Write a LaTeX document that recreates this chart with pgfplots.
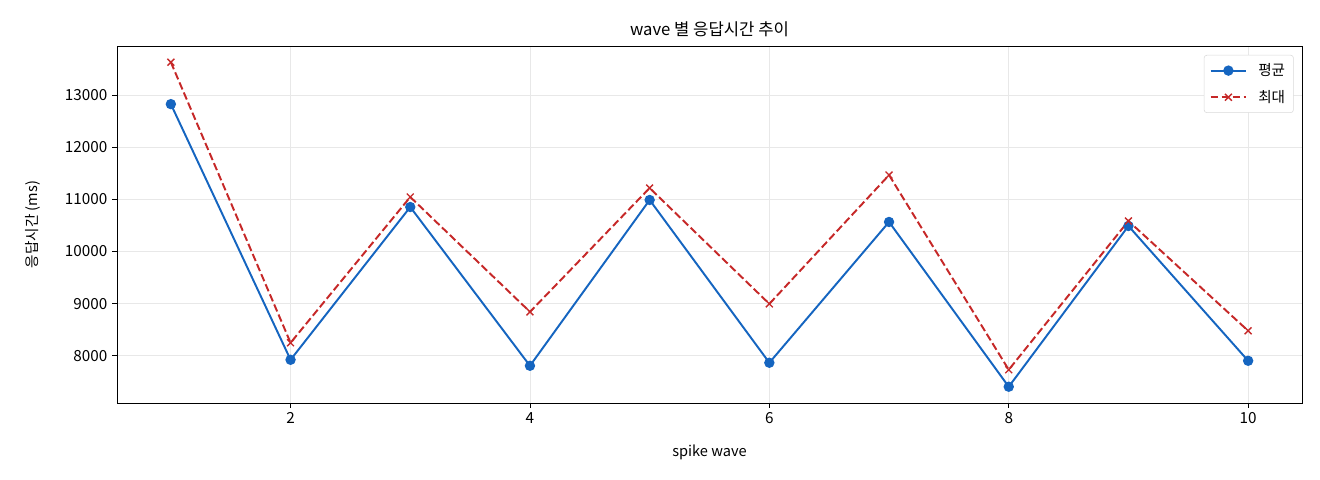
\documentclass[border=0pt]{standalone}
\usepackage{fontspec}
\setmainfont{Noto Sans CJK KR}
\usepackage{pgfplots}
\pgfplotsset{compat=1.18}

\definecolor{avgblue}{HTML}{1565C0}
\definecolor{maxred}{HTML}{C62828}

\begin{document}
\begin{tikzpicture}
  \begin{axis}[
      name=ax,
      scale only axis,
      width=853.2pt, height=257pt,
      xmin=0.55, xmax=10.45,
      ymin=7095, ymax=13943,
      xtick={2,4,6,8,10},
      ytick={8000,9000,10000,11000,12000,13000},
      scaled ticks=false,
      /pgf/number format/fixed,
      /pgf/number format/1000 sep={},
      /pgf/number format/assume math mode=true,
      tick label style={font=\fontsize{11}{12}\selectfont},
      tick align=outside,
      tick pos=left,
      major tick length=3.5pt,
      major tick style={line width=0.6pt, black},
      grid=major,
      grid style={gray!18, line width=0.6pt},
      axis line style={line width=0.6pt},
      title={wave 별 응답시간 추이},
      title style={font=\fontsize{12}{14}\selectfont, yshift=-3pt},
      xlabel={spike wave},
      ylabel={응답시간 (ms)},
      xlabel style={yshift=-8pt},
      ylabel style={yshift=11pt},
      label style={font=\fontsize{10.5}{12}\selectfont},
      legend cell align=left,
      legend image code/.code={%
        \draw[mark repeat=2,mark phase=2] plot coordinates {(0cm,0cm) (0.45cm,0cm) (0.9cm,0cm)};},
      legend style={font=\fontsize{10.5}{12}\selectfont, draw=gray!30, rounded corners=2pt,
                    at={(0.993,0.975)}, anchor=north east, inner sep=4pt,
                    row sep=5pt, column sep=6pt},
    ]
    \addplot[color=avgblue, line width=1.4pt, mark=*, mark size=3pt,
             mark options={solid}]
      coordinates {
        (1, 12828) (2, 7923) (3, 10854) (4, 7808) (5, 10989)
        (6, 7866) (7, 10567) (8, 7406) (9, 10490) (10, 7904)
      };
    \addlegendentry{평균}
    \addplot[color=maxred, line width=1.4pt, dash pattern=on 5.5pt off 2.4pt,
             mark=x, mark size=3.5pt, mark options={solid, line width=1pt}]
      coordinates {
        (1, 13632) (2, 8249) (3, 11046) (4, 8843) (5, 11218)
        (6, 8996) (7, 11467) (8, 7732) (9, 10586) (10, 8479)
      };
    \addlegendentry{최대}
  \end{axis}
  \path (ax.south west) ++(-84.24pt,-55.44pt) coordinate (bl);
  \path (ax.north east) ++(12.96pt,33.12pt) coordinate (tr);
  \path (bl) rectangle (tr);
\end{tikzpicture}
\end{document}
